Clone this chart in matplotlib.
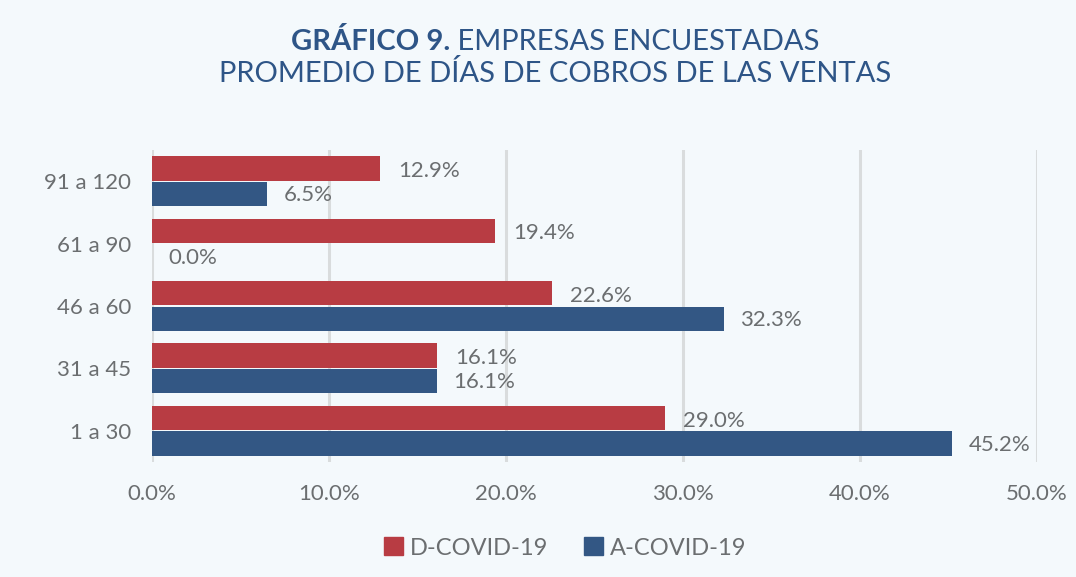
import numpy as np
import matplotlib.pyplot as plt
import matplotlib.patches as mpatches

# datos
categorias = ['1 a 30', '31 a 45', '46 a 60', '61 a 90', '91 a 120']
d_covid = [29.0, 16.1, 22.6, 19.4, 12.9]
a_covid = [45.2, 16.1, 32.3, 0.0, 6.5]
series_labels = ['D-COVID-19', 'A-COVID-19']
xticks = [0, 10, 20, 30, 40, 50]

ROJO = '#B83C43'
AZUL = '#335784'
GRIS = '#6B6E70'
FONDO = '#F4F9FC'
TITULO = '#2E5587'

plt.rcParams['font.family'] = ['Lato', 'DejaVu Sans']

fig = plt.figure(figsize=(10.76, 5.77), dpi=100)
fig.patch.set_facecolor(FONDO)
ax = fig.add_axes([0.1413, 0.1993, 0.8225, 0.5408])
ax.set_facecolor(FONDO)

y = np.arange(len(categorias))
h = 0.39
ax.barh(y + h / 2 + 0.01, d_covid, height=h, color=ROJO, zorder=3)
ax.barh(y - h / 2 - 0.01, a_covid, height=h, color=AZUL, zorder=3)

for yi, v in zip(y, d_covid):
    ax.annotate(f'{v:.1f}%', (v, yi + h / 2 - 0.03), xytext=(13, 0), textcoords='offset points',
                ha='left', va='center', fontsize=16, color=GRIS)
for yi, v in zip(y, a_covid):
    ax.annotate(f'{v:.1f}%', (v, yi - h / 2 - 0.03), xytext=(12, 0), textcoords='offset points',
                ha='left', va='center', fontsize=16, color=GRIS)

ax.set_xlim(0, 50)
ax.set_ylim(-0.5, 4.5)
ax.set_xticks(xticks)
ax.set_xticklabels([f'{t:.1f}%' for t in xticks], fontsize=16, color=GRIS)
ax.set_yticks(y)
ax.set_yticklabels(categorias, fontsize=16, color=GRIS)
ax.tick_params(length=0)
ax.tick_params(axis='x', pad=16)
ax.tick_params(axis='y', pad=15)
ax.grid(axis='x', color='#D9DCDD', linewidth=2.2, zorder=0)
for s in ax.spines.values():
    s.set_visible(False)

# titulo en dos pesos
t1 = fig.text(0, 1 - 42 / 577, 'GRÁFICO 9.', fontsize=21, fontweight='bold', color=TITULO,
              ha='left', va='center')
t2 = fig.text(0, 1 - 42 / 577, ' EMPRESAS ENCUESTADAS', fontsize=21,
              color=TITULO, ha='left', va='center')
fig.text(555 / 1076, 1 - 73 / 577, 'PROMEDIO DE DÍAS DE COBROS DE LAS VENTAS', fontsize=21,
         color=TITULO, ha='center', va='center')
fig.canvas.draw()
r = fig.canvas.get_renderer()
w1 = t1.get_window_extent(r).width
w2 = t2.get_window_extent(r).width
x0 = 555 - (w1 + w2) / 2
t1.set_x(x0 / 1076)
t2.set_x((x0 + w1) / 1076)

handles = [mpatches.Patch(color=ROJO), mpatches.Patch(color=AZUL)]
leg = fig.legend(handles, series_labels, loc='center', bbox_to_anchor=(565 / 1076, 1 - 548 / 577),
                 ncol=2, frameon=False, fontsize=17, handlelength=0.8, handleheight=0.8,
                 handletextpad=0.3, columnspacing=1.5)
for t in leg.get_texts():
    t.set_color(GRIS)

plt.savefig('out.png', dpi=100, facecolor=FONDO)
